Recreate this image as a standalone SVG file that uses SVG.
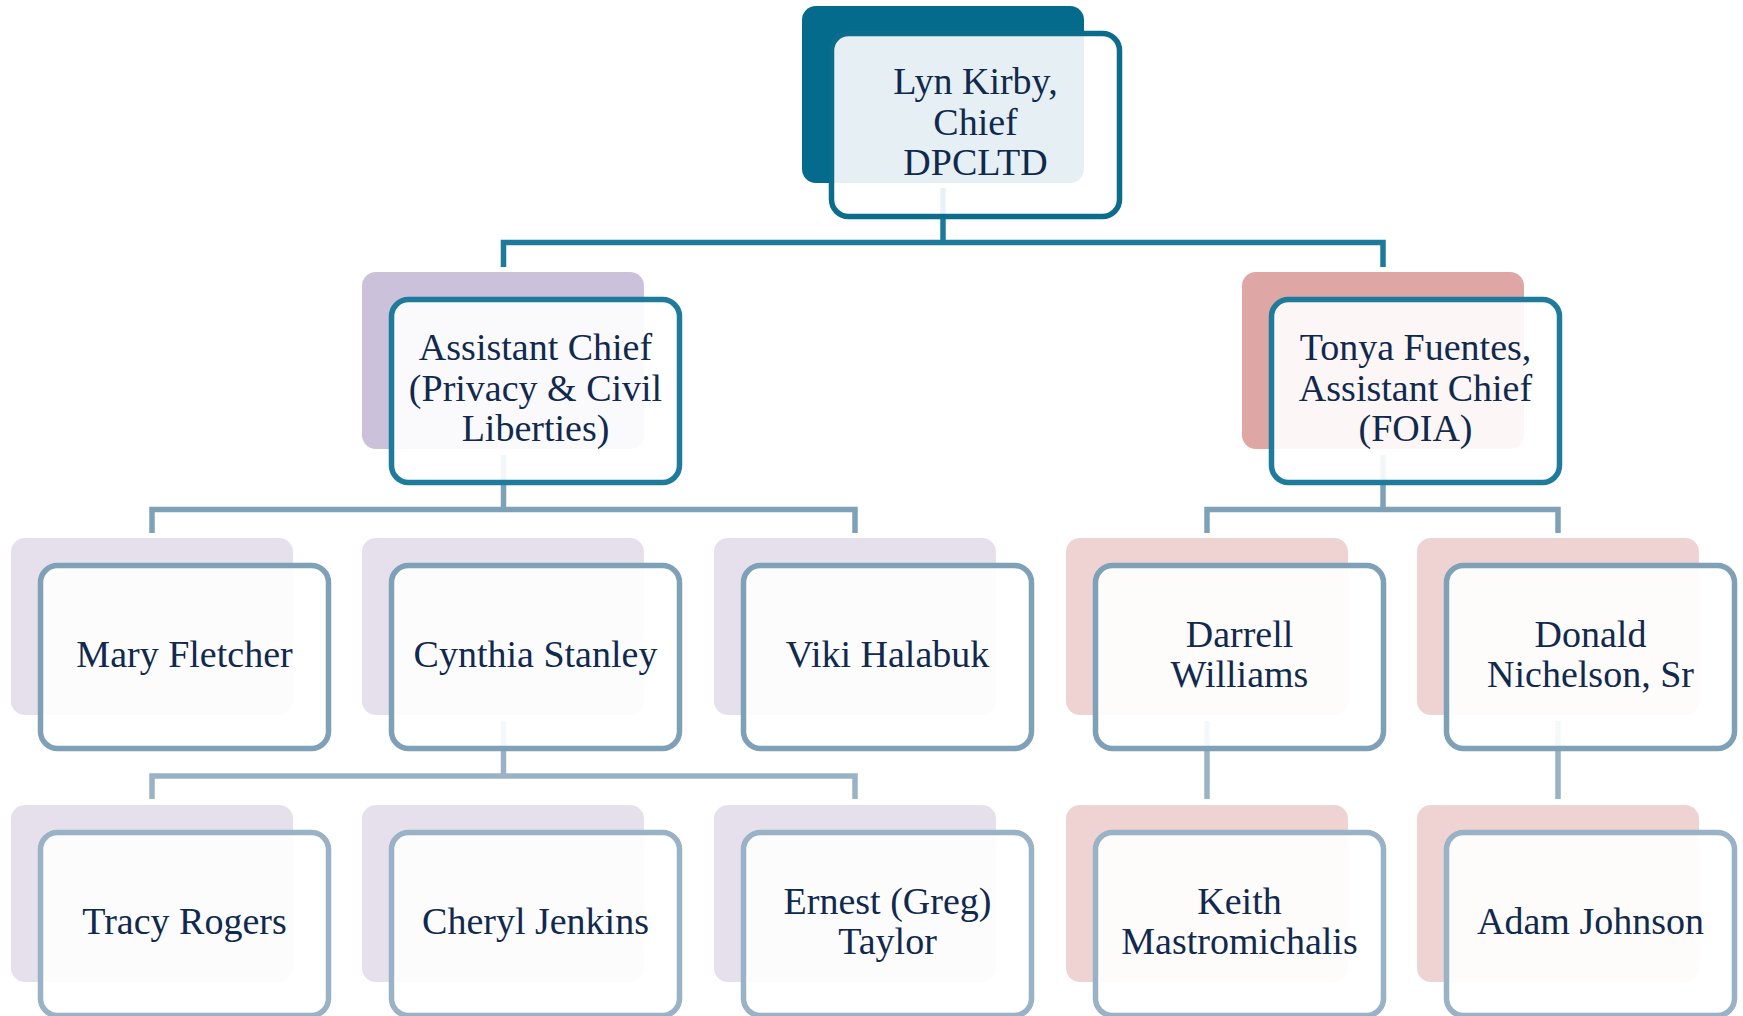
<svg xmlns="http://www.w3.org/2000/svg" width="1743" height="1016" viewBox="0 0 1743 1016">
<style>
.bk{stroke:none}
.fr{fill:#ffffff;fill-opacity:0.9;stroke-width:5.5}
.l1{stroke:#0b6c8c}
.l2{stroke:#1e7b9c}
.l3{stroke:#7fa1b8}
.l4{stroke:#99b2c5}
.pu2{fill:#cbc1db}.pk2{fill:#dfa6a6}.pu{fill:#e6e0ec}.pk{fill:#efd3d3}.tl{fill:#046b8c}
text{font-family:"Liberation Serif","Times New Roman",serif;font-size:38px;fill:#10294d;text-anchor:middle}
.c{fill:none;stroke-width:5.5}
</style>
<rect width="1743" height="1016" fill="#ffffff"/>
<g id="connectors">
<path class="c" stroke="#1d7a9b" d="M943 188V242.5M503.5 267V242.5H1383V267"/>
<path class="c" stroke="#7fa1b8" d="M503.5 455V509.5M152 533V509.5H855V533M1383 455V509.5M1207 533V509.5H1558V533"/>
<path class="c" stroke="#99b2c5" d="M503.5 721V776M152 799V776H855V799M1207 721V799M1558 721V799"/>
</g>
<g id="n-kirby" transform="translate(802,6)"><rect class="bk tl" width="282" height="177" rx="14"/><rect class="fr l1" x="29.5" y="27.5" width="288" height="183" rx="17"/><text x="173.5" y="88">Lyn Kirby,</text><text x="173.5" y="128.5">Chief</text><text x="173.5" y="169">DPCLTD</text></g>
<g id="n-privacy" transform="translate(362,272)"><rect class="bk pu2" width="282" height="177" rx="14"/><rect class="fr l2" x="29.5" y="27.5" width="288" height="183" rx="17"/><text x="173.5" y="88">Assistant Chief</text><text x="173.5" y="128.5">(Privacy &amp; Civil</text><text x="173.5" y="169">Liberties)</text></g>
<g id="n-fuentes" transform="translate(1242,272)"><rect class="bk pk2" width="282" height="177" rx="14"/><rect class="fr l2" x="29.5" y="27.5" width="288" height="183" rx="17"/><text x="173.5" y="88">Tonya Fuentes,</text><text x="173.5" y="128.5">Assistant Chief</text><text x="173.5" y="169">(FOIA)</text></g>
<g id="n-fletcher" transform="translate(11,538)"><rect class="bk pu" width="282" height="177" rx="14"/><rect class="fr l3" x="29.5" y="27.5" width="288" height="183" rx="17"/><text x="173.5" y="129">Mary Fletcher</text></g>
<g id="n-stanley" transform="translate(362,538)"><rect class="bk pu" width="282" height="177" rx="14"/><rect class="fr l3" x="29.5" y="27.5" width="288" height="183" rx="17"/><text x="173.5" y="129">Cynthia Stanley</text></g>
<g id="n-halabuk" transform="translate(714,538)"><rect class="bk pu" width="282" height="177" rx="14"/><rect class="fr l3" x="29.5" y="27.5" width="288" height="183" rx="17"/><text x="173.5" y="129">Viki Halabuk</text></g>
<g id="n-williams" transform="translate(1066,538)"><rect class="bk pk" width="282" height="177" rx="14"/><rect class="fr l3" x="29.5" y="27.5" width="288" height="183" rx="17"/><text x="173.5" y="109">Darrell</text><text x="173.5" y="149">Williams</text></g>
<g id="n-nichelson" transform="translate(1417,538)"><rect class="bk pk" width="282" height="177" rx="14"/><rect class="fr l3" x="29.5" y="27.5" width="288" height="183" rx="17"/><text x="173.5" y="109">Donald</text><text x="173.5" y="149">Nichelson, Sr</text></g>
<g id="n-rogers" transform="translate(11,805)"><rect class="bk pu" width="282" height="177" rx="14"/><rect class="fr l4" x="29.5" y="27.5" width="288" height="183" rx="17"/><text x="173.5" y="129">Tracy Rogers</text></g>
<g id="n-jenkins" transform="translate(362,805)"><rect class="bk pu" width="282" height="177" rx="14"/><rect class="fr l4" x="29.5" y="27.5" width="288" height="183" rx="17"/><text x="173.5" y="129">Cheryl Jenkins</text></g>
<g id="n-taylor" transform="translate(714,805)"><rect class="bk pu" width="282" height="177" rx="14"/><rect class="fr l4" x="29.5" y="27.5" width="288" height="183" rx="17"/><text x="173.5" y="109">Ernest (Greg)</text><text x="173.5" y="149">Taylor</text></g>
<g id="n-mastromichalis" transform="translate(1066,805)"><rect class="bk pk" width="282" height="177" rx="14"/><rect class="fr l4" x="29.5" y="27.5" width="288" height="183" rx="17"/><text x="173.5" y="109">Keith</text><text x="173.5" y="149">Mastromichalis</text></g>
<g id="n-johnson" transform="translate(1417,805)"><rect class="bk pk" width="282" height="177" rx="14"/><rect class="fr l4" x="29.5" y="27.5" width="288" height="183" rx="17"/><text x="173.5" y="129">Adam Johnson</text></g>
</svg>
